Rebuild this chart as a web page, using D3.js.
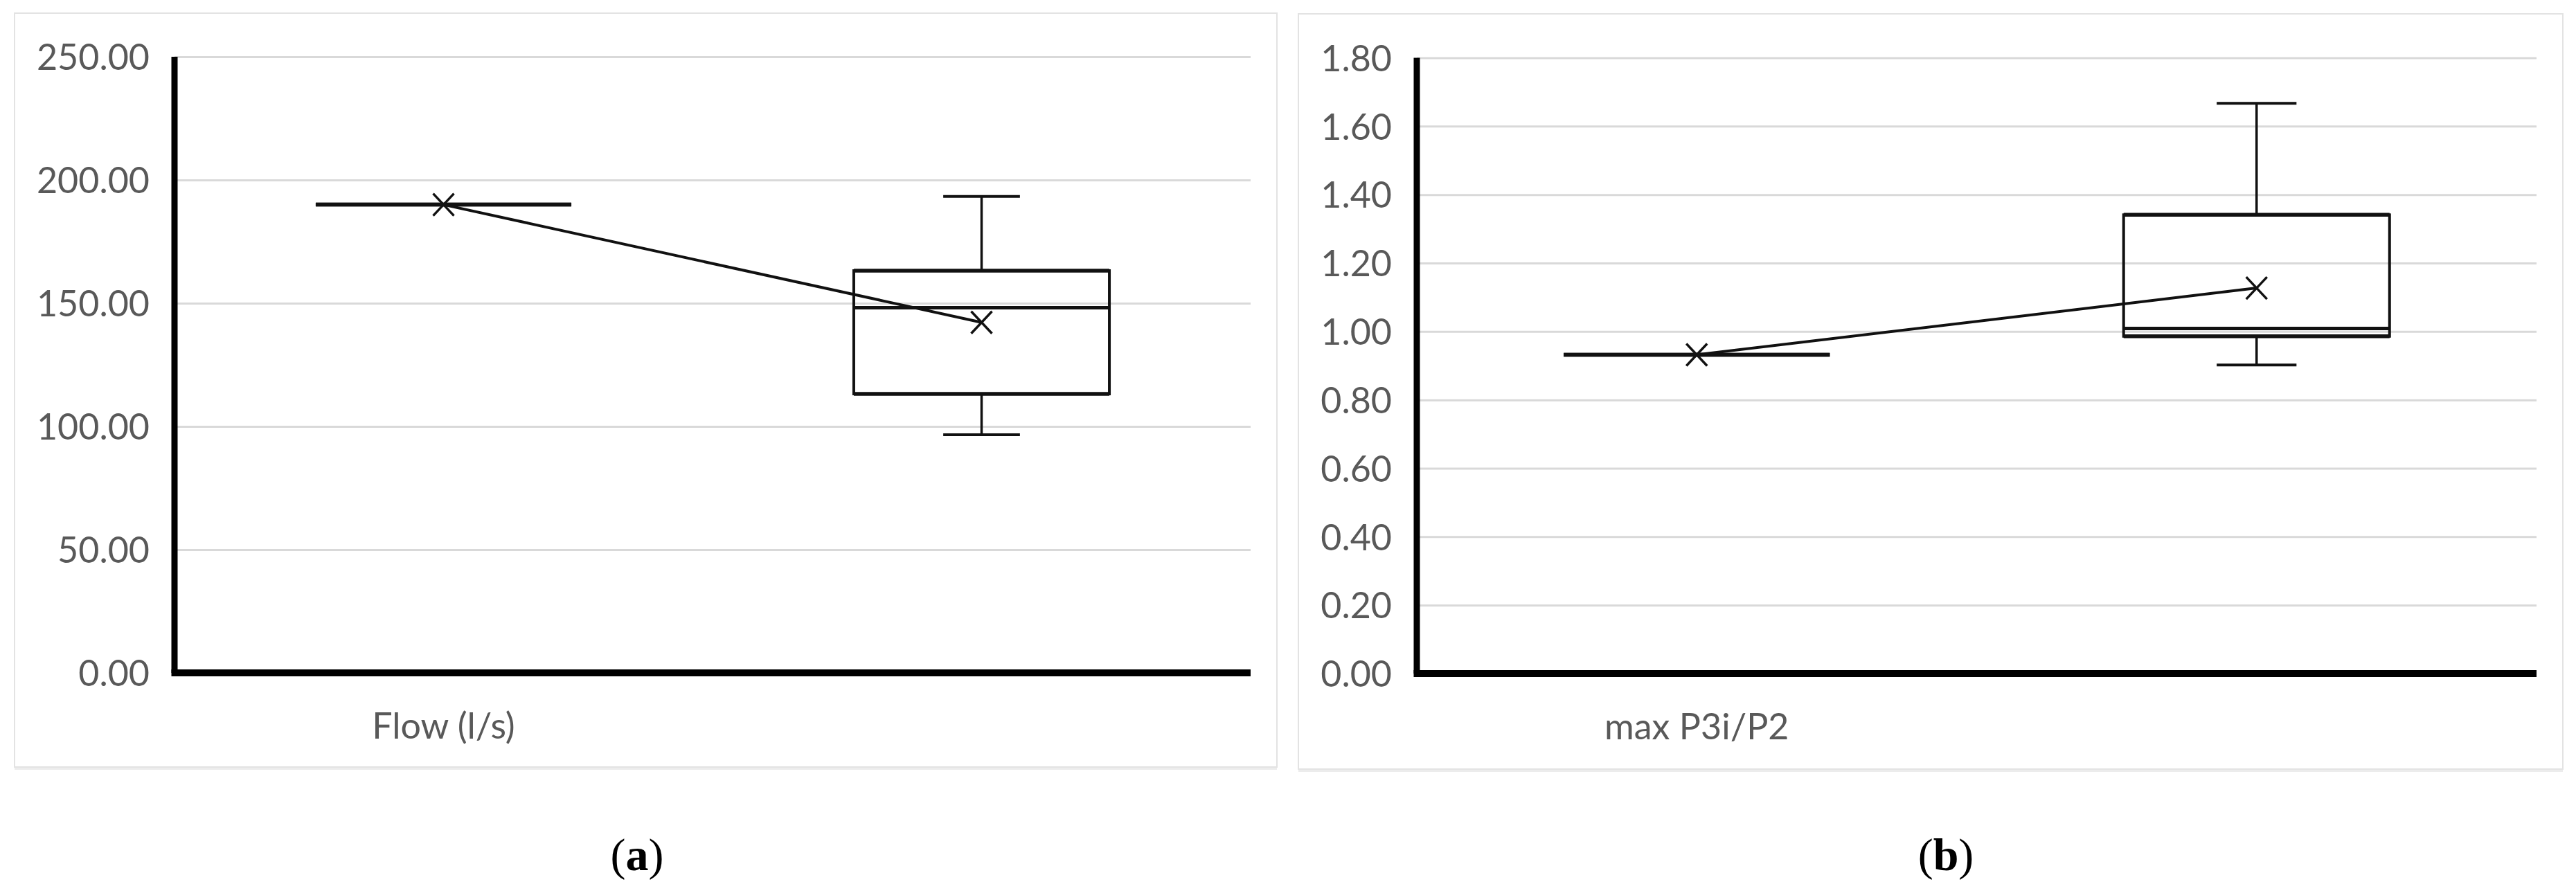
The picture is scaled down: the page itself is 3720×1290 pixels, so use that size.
<!DOCTYPE html>
<html>
<head>
<meta charset="utf-8">
<script src="https://cdn.jsdelivr.net/npm/d3@7"></script>
<style>
  body { margin: 0; background: #fff; }
  .tick text { font-family: Lato, "Open Sans", sans-serif; fill: #595959; }
  .grid line { stroke: #d9d9d9; stroke-width: 3; }
  .grid .domain { display: none; }
</style>
</head>
<body>
<svg id="fig" width="3720" height="1290"></svg>
<script>
// panel (a)
const flowCategories = ['Flow (l/s)', ''];
const flowTicks = [0, 50, 100, 150, 200, 250];
const flowMin    = [190.0,  96.6];
const flowQ1     = [190.0, 113.2];
const flowMedian = [190.0, 148.2];
const flowQ3     = [190.0, 163.2];
const flowMax    = [190.0, 193.3];
const flowMean   = [190.0, 142.2];

// panel (b)
const ratioCategories = ['max P3i/P2', ''];
const ratioTicks = [0, 0.2, 0.4, 0.6, 0.8, 1.0, 1.2, 1.4, 1.6, 1.8];
const ratioMin    = [0.932, 0.902];
const ratioQ1     = [0.932, 0.986];
const ratioMedian = [0.932, 1.009];
const ratioQ3     = [0.932, 1.341];
const ratioMax    = [0.932, 1.667];
const ratioMean   = [0.932, 1.127];

const captions = ['a', 'b'];

function boxData(min, q1, med, q3, max, mean) {
  return min.map((d, i) => ({i, min: d, q1: q1[i], median: med[i], q3: q3[i], max: max[i], mean: mean[i]}));
}

const svg = d3.select('#fig');

function panel(opts) {
  const {frame, plot, categories, ticks, data, caption} = opts;
  const g = svg.append('g');

  // outer frame
  g.append('rect')
    .attr('x', frame.x0).attr('y', frame.y0 + 4)
    .attr('width', frame.x1 - frame.x0).attr('height', frame.y1 - frame.y0)
    .attr('fill', '#ececec');
  g.append('rect')
    .attr('x', frame.x0).attr('y', frame.y0)
    .attr('width', frame.x1 - frame.x0).attr('height', frame.y1 - frame.y0)
    .attr('fill', '#fff').attr('stroke', '#e3e3e3').attr('stroke-width', 2);

  const x = d3.scaleBand().domain(categories).range([plot.x0, plot.x1]);
  const y = d3.scaleLinear().domain([0, d3.max(ticks)]).range([plot.y1, plot.y0]);

  // gridlines
  g.append('g')
    .attr('class', 'grid')
    .attr('transform', `translate(${plot.x0},0)`)
    .call(d3.axisLeft(y).tickValues(ticks.slice(1)).tickSize(-(plot.x1 - plot.x0)).tickFormat(''));

  // y axis labels
  const ya = g.append('g')
    .attr('transform', `translate(${plot.x0},0)`)
    .call(d3.axisLeft(y).tickValues(ticks).tickSize(0).tickPadding(36).tickFormat(d3.format('.2f')));
  ya.select('.domain').remove();
  ya.selectAll('text').attr('font-size', 52).attr('dy', '0.36em');

  // x axis labels
  const xa = g.append('g')
    .attr('transform', `translate(0,${plot.y1})`)
    .call(d3.axisBottom(x).tickSize(0).tickPadding(58));
  xa.select('.domain').remove();
  xa.selectAll('text').attr('font-size', 52);

  // axis lines
  g.append('line')
    .attr('x1', plot.x0).attr('x2', plot.x0)
    .attr('y1', y(d3.max(ticks))).attr('y2', y(0))
    .attr('stroke', '#000').attr('stroke-width', 9);
  g.append('line')
    .attr('x1', plot.x0 - 4.5).attr('x2', plot.x1)
    .attr('y1', y(0)).attr('y2', y(0))
    .attr('stroke', '#000').attr('stroke-width', 10);

  const bw = x.bandwidth() * 0.475;
  const cw = bw * 0.3;
  const cx = d => x(categories[d.i]) + x.bandwidth() / 2;

  const box = g.selectAll('.box').data(data).enter().append('g').attr('class', 'box');

  box.append('line')
    .attr('x1', cx).attr('x2', cx)
    .attr('y1', d => y(d.max)).attr('y2', d => y(d.q3))
    .attr('stroke', '#111').attr('stroke-width', 3.5);
  box.append('line')
    .attr('x1', cx).attr('x2', cx)
    .attr('y1', d => y(d.q1)).attr('y2', d => y(d.min))
    .attr('stroke', '#111').attr('stroke-width', 3.5);
  box.filter(d => d.max > d.q3).append('line')
    .attr('x1', d => cx(d) - cw / 2).attr('x2', d => cx(d) + cw / 2)
    .attr('y1', d => y(d.max)).attr('y2', d => y(d.max))
    .attr('stroke', '#111').attr('stroke-width', 4);
  box.filter(d => d.min < d.q1).append('line')
    .attr('x1', d => cx(d) - cw / 2).attr('x2', d => cx(d) + cw / 2)
    .attr('y1', d => y(d.min)).attr('y2', d => y(d.min))
    .attr('stroke', '#111').attr('stroke-width', 4);

  box.append('rect')
    .attr('x', d => cx(d) - bw / 2)
    .attr('y', d => y(d.q3))
    .attr('width', bw)
    .attr('height', d => y(d.q1) - y(d.q3))
    .attr('fill', 'none').attr('stroke', '#111').attr('stroke-width', 4);
  box.append('line')
    .attr('x1', d => cx(d) - bw / 2).attr('x2', d => cx(d) + bw / 2)
    .attr('y1', d => y(d.median)).attr('y2', d => y(d.median))
    .attr('stroke', '#111').attr('stroke-width', 5);
  // top/bottom edges a bit heavier
  box.append('line')
    .attr('x1', d => cx(d) - bw / 2).attr('x2', d => cx(d) + bw / 2)
    .attr('y1', d => y(d.q3)).attr('y2', d => y(d.q3))
    .attr('stroke', '#111').attr('stroke-width', 5.5);
  box.append('line')
    .attr('x1', d => cx(d) - bw / 2).attr('x2', d => cx(d) + bw / 2)
    .attr('y1', d => y(d.q1)).attr('y2', d => y(d.q1))
    .attr('stroke', '#111').attr('stroke-width', 5.5);

  // mean line and markers
  g.append('path')
    .datum(data)
    .attr('d', d3.line().x(cx).y(d => y(d.mean)))
    .attr('fill', 'none').attr('stroke', '#111').attr('stroke-width', 4);
  g.selectAll('.mean').data(data).enter().append('path')
    .attr('class', 'mean')
    .attr('transform', d => `translate(${cx(d)},${y(d.mean)})`)
    .attr('d', 'M-15,-16L15,16M-15,16L15,-16')
    .attr('stroke', '#111').attr('stroke-width', 3.5).attr('fill', 'none');

  // caption
  const cap = svg.append('text')
    .attr('x', caption.x).attr('y', 1257)
    .attr('text-anchor', 'middle')
    .attr('font-family', '"Liberation Serif", "DejaVu Serif", serif')
    .attr('font-size', 66)
    .attr('fill', '#000');
  cap.append('tspan').text('(');
  cap.append('tspan').attr('font-weight', 'bold').text(caption.t);
  cap.append('tspan').text(')');
}

panel({
  frame: {x0: 21, y0: 19, x1: 1844, y1: 1108},
  plot: {x0: 252, x1: 1806, y0: 82, y1: 972},
  categories: flowCategories,
  ticks: flowTicks,
  data: boxData(flowMin, flowQ1, flowMedian, flowQ3, flowMax, flowMean),
  caption: {x: 920, t: captions[0]}
});

panel({
  frame: {x0: 1875, y0: 20, x1: 3701, y1: 1111},
  plot: {x0: 2046, x1: 3663, y0: 83.5, y1: 973},
  categories: ratioCategories,
  ticks: ratioTicks,
  data: boxData(ratioMin, ratioQ1, ratioMedian, ratioQ3, ratioMax, ratioMean),
  caption: {x: 2810, t: captions[1]}
});
</script>
</body>
</html>
